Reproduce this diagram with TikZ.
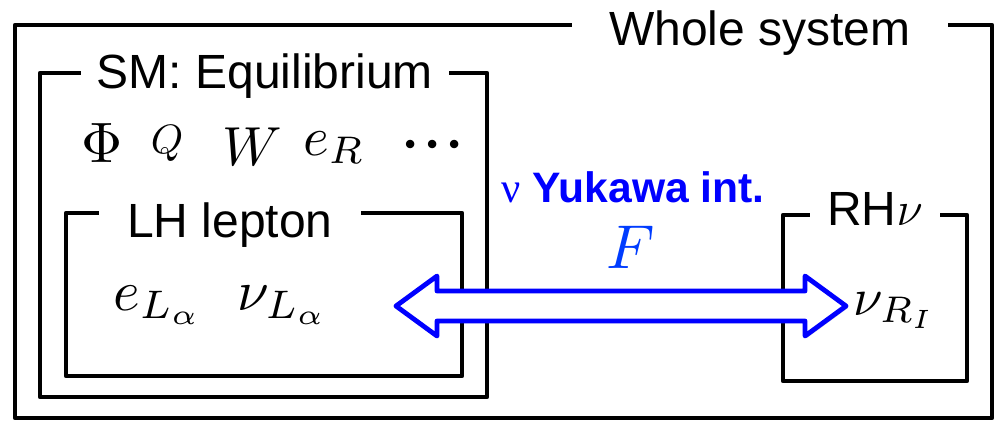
\RequirePackage{fix-cm}
\documentclass[tikz,border=0pt]{standalone}
\usepackage{amsmath}
\usepackage{fontspec}
\setmainfont{Liberation Sans}
\newfontfamily\greekserif{Liberation Serif}
\usetikzlibrary{calc,shadows}
\definecolor{yukblue}{RGB}{0,0,255}
\definecolor{fblue}{RGB}{0,60,255}

\begin{document}
\begin{tikzpicture}[
    x=0.5pt, y=-0.5pt,
    frame/.style={draw=black, line width=2.2pt, line join=round},
    title/.style={fill=white, anchor=base, inner xsep=0pt, inner ysep=2pt, font=\fontsize{24}{28}\selectfont},
    sym/.style={anchor=base, inner sep=0pt},
    yukarrow/.style={draw=yukblue, line width=2.4pt, fill=white, line join=round, drop shadow={opacity=0.3, shadow xshift=1pt, shadow yshift=-1pt}}
]
\useasboundingbox (0,0) rectangle (996,420);

% Frames
\draw[frame] (15,25) rectangle (992,418);
\draw[frame] (40,73) rectangle (487,397);
\draw[frame] (66,213) rectangle (462,376);
\draw[frame] (783,215) rectangle (967,381);

% Frame titles
\node[title, minimum width=188pt] (wholeT) at (760,45) {Whole system};
\node[title, minimum width=184pt] (smT) at (265,88) {SM: Equilibrium};
\node[title, minimum width=131pt] (lhT) at (230,237) {LH lepton};
\node[title, minimum width=65pt] (rhT) at (875,225) {RH$\nu$};

% SM fields
\node[sym, scale=2.85] (phi) at (102,162) {$\Phi$};
\node[sym, scale=2.05] (q) at (167,153) {$Q$};
\node[sym, scale=2.75] (w) at (252,165) {$W$};
\node[sym, scale=2.75] (eR) at (334,155) {$e_R$};
\node[sym, scale=4] (dots) at (433,164) {${\cdot}{\cdot}{\cdot}$};

% Lepton doublet
\node[sym, scale=2.85] (eL) at (158,310) {$e_{L_\alpha}$};
\node[sym, scale=2.85] (nuL) at (283,310) {$\nu_{L_\alpha}$};

% Right-handed neutrino
\node[sym, scale=2.65] (nuR) at (895,315) {$\nu_{R_I}$};

% Yukawa coupling
\node[sym, font=\fontsize{21.3}{26}\selectfont, text=yukblue] (yuk) at (633,202) {{\greekserif ν} \textbf{Yukawa int.}};
\node[sym, scale=3.1, text=fblue] (F) at (631,268) {$F$};

\coordinate (al) at (396,306);
\coordinate (ar) at (846,306);
\draw[yukarrow] (al) -- ($(al)+(41,-30)$) -- ($(al)+(41,-15)$) -- ($(ar)+(-41,-15)$) -- ($(ar)+(-41,-30)$) -- (ar)
    -- ($(ar)+(-41,30)$) -- ($(ar)+(-41,15)$) -- ($(al)+(41,15)$) -- ($(al)+(41,30)$) -- cycle;

\end{tikzpicture}
\end{document}
